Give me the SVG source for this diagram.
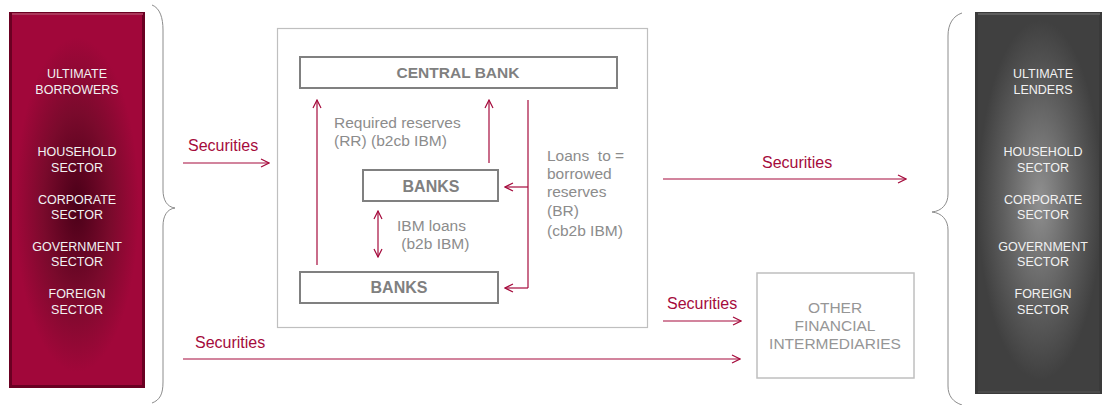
<svg xmlns="http://www.w3.org/2000/svg" width="1102" height="405" viewBox="0 0 1102 405">
<defs>
<radialGradient id="gRed" cx="77" cy="205" r="62" gradientUnits="userSpaceOnUse" gradientTransform="translate(77 205) scale(1 2.7) translate(-77 -205)">
<stop offset="0" stop-color="#4A0018"/>
<stop offset="0.55" stop-color="#7A0A2C"/>
<stop offset="1" stop-color="#A1073A"/>
</radialGradient>
<radialGradient id="gGrey" cx="1040" cy="200" r="62" gradientUnits="userSpaceOnUse" gradientTransform="translate(1040 200) scale(1 2.9) translate(-1040 -200)">
<stop offset="0" stop-color="#909090"/>
<stop offset="0.6" stop-color="#5E5E5E"/>
<stop offset="1" stop-color="#404040"/>
</radialGradient>
<marker id="arr" viewBox="0 0 10 10" refX="9" refY="5" markerWidth="10" markerHeight="10" markerUnits="userSpaceOnUse" orient="auto-start-reverse">
<path d="M1,1 L9,5 L1,9" fill="none" stroke="#A50B3C" stroke-width="1.2"/>
</marker>
<style>
.lbl{font-family:"Liberation Sans",Arial,sans-serif;font-size:12.5px;fill:#F2F2F2;text-anchor:middle}
.grey{font-family:"Liberation Sans",Arial,sans-serif;font-size:15.5px;fill:#8C8C8C}
.ofi{font-family:"Liberation Sans",Arial,sans-serif;font-size:15.5px;fill:#969696;text-anchor:middle}
.bold{font-family:"Liberation Sans",Arial,sans-serif;font-weight:bold;fill:#808080;text-anchor:middle}
.sec{font-family:"Liberation Sans",Arial,sans-serif;font-size:16px;fill:#A50B3C}
.conn{fill:none;stroke:#A50B3C;stroke-width:1.2}
.brace{fill:none;stroke:#8C8C8C;stroke-width:1}
.box{fill:#FFFFFF;stroke:#808080;stroke-width:2}
</style>
</defs>
<rect width="1102" height="405" fill="#FFFFFF"/>

<g id="ultimate-borrowers">
<rect x="9" y="12" width="136" height="376" fill="url(#gRed)"/>
<rect x="10.5" y="13.5" width="133" height="373" fill="none" stroke="#6A0022" stroke-width="3"/>
<line x1="12" y1="14" x2="143" y2="14" stroke="#C04A6E" stroke-width="1.5"/>
<text class="lbl" x="77" y="77.5">ULTIMATE</text>
<text class="lbl" x="77" y="93.5">BORROWERS</text>
<text class="lbl" x="77" y="155.5">HOUSEHOLD</text>
<text class="lbl" x="77" y="171.5">SECTOR</text>
<text class="lbl" x="77" y="203.5">CORPORATE</text>
<text class="lbl" x="77" y="218.5">SECTOR</text>
<text class="lbl" x="77" y="250.5">GOVERNMENT</text>
<text class="lbl" x="77" y="265.5">SECTOR</text>
<text class="lbl" x="77" y="297.5">FOREIGN</text>
<text class="lbl" x="77" y="313.5">SECTOR</text>
</g>

<g id="brace-left">
<path class="brace" d="M152,5 C160,8 163,18 163,30 L163,190 C163,200 167,207 175,208 C167,209 163,216 163,226 L163,382 C163,394 160,400 152,403"/>
</g>

<g id="ultimate-lenders">
<rect x="975" y="12" width="127" height="382" fill="url(#gGrey)"/>
<rect x="976.5" y="13.5" width="124" height="379" fill="none" stroke="#3A3A3A" stroke-width="3"/>
<line x1="978" y1="14" x2="1100" y2="14" stroke="#6A6A6A" stroke-width="1.5"/>
<line x1="978" y1="392" x2="1100" y2="392" stroke="#5A5A5A" stroke-width="1"/>
<text class="lbl" x="1043" y="77.5">ULTIMATE</text>
<text class="lbl" x="1043" y="93.5">LENDERS</text>
<text class="lbl" x="1043" y="155.5">HOUSEHOLD</text>
<text class="lbl" x="1043" y="171.5">SECTOR</text>
<text class="lbl" x="1043" y="203.5">CORPORATE</text>
<text class="lbl" x="1043" y="218.5">SECTOR</text>
<text class="lbl" x="1043" y="250.5">GOVERNMENT</text>
<text class="lbl" x="1043" y="265.5">SECTOR</text>
<text class="lbl" x="1043" y="297.5">FOREIGN</text>
<text class="lbl" x="1043" y="313.5">SECTOR</text>
</g>

<g id="brace-right">
<path class="brace" d="M962,13 C953,16 948,24 948,36 L948,194 C948,204 942,211 932,212 C942,213 948,220 948,230 L948,386 C948,396 953,402 962,405"/>
</g>

<g id="banking-system">
<rect x="277.5" y="28.5" width="370" height="299" fill="#FFFFFF" stroke="#BFBFBF" stroke-width="1.2"/>
</g>

<g id="central-bank">
<rect class="box" x="300" y="57" width="317" height="31"/>
<text class="bold" x="458" y="77.5" font-size="15.5">CENTRAL BANK</text>
</g>

<g id="banks-upper">
<rect class="box" x="363" y="170" width="135" height="31"/>
<text class="bold" x="431" y="191.5" font-size="16">BANKS</text>
</g>

<g id="banks-lower">
<rect class="box" x="300" y="272" width="198" height="31"/>
<text class="bold" x="399" y="293" font-size="16">BANKS</text>
</g>

<g id="other-financial-intermediaries">
<rect x="757" y="273" width="157" height="105" fill="#FFFFFF" stroke="#BFBFBF" stroke-width="1.5"/>
<text class="ofi" x="835" y="312.5">OTHER</text>
<text class="ofi" x="835" y="330.5">FINANCIAL</text>
<text class="ofi" x="835" y="348.5">INTERMEDIARIES</text>
</g>

<g id="connectors">
<line class="conn" x1="183" y1="163" x2="269" y2="163" marker-end="url(#arr)"/>
<line class="conn" x1="183" y1="359" x2="740" y2="359" marker-end="url(#arr)"/>
<line class="conn" x1="663" y1="179" x2="906" y2="179" marker-end="url(#arr)"/>
<line class="conn" x1="663" y1="321" x2="741" y2="321" marker-end="url(#arr)"/>
<line class="conn" x1="317" y1="265" x2="317" y2="100" marker-end="url(#arr)"/>
<line class="conn" x1="489" y1="163" x2="489" y2="100" marker-end="url(#arr)"/>
<line class="conn" x1="528" y1="100" x2="528" y2="288"/>
<line class="conn" x1="528" y1="187" x2="505" y2="187" marker-end="url(#arr)"/>
<line class="conn" x1="528" y1="288" x2="505" y2="288" marker-end="url(#arr)"/>
<line class="conn" x1="378" y1="211" x2="378" y2="257" marker-start="url(#arr)" marker-end="url(#arr)"/>
</g>

<g id="labels">
<text class="sec" x="188" y="151">Securities</text>
<text class="sec" x="195" y="348">Securities</text>
<text class="sec" x="762" y="168">Securities</text>
<text class="sec" x="667" y="309">Securities</text>
<text class="grey" x="334" y="127.5">Required reserves</text>
<text class="grey" x="334" y="145.5">(RR) (b2cb IBM)</text>
<text class="grey" x="547" y="160.5" xml:space="preserve">Loans  to =</text>
<text class="grey" x="547" y="178.5">borrowed</text>
<text class="grey" x="547" y="196.5">reserves</text>
<text class="grey" x="547" y="215.5">(BR)</text>
<text class="grey" x="547" y="235.5">(cb2b IBM)</text>
<text class="grey" x="397" y="230.5">IBM loans</text>
<text class="grey" x="397" y="248.5" xml:space="preserve"> (b2b IBM)</text>
</g>
</svg>
